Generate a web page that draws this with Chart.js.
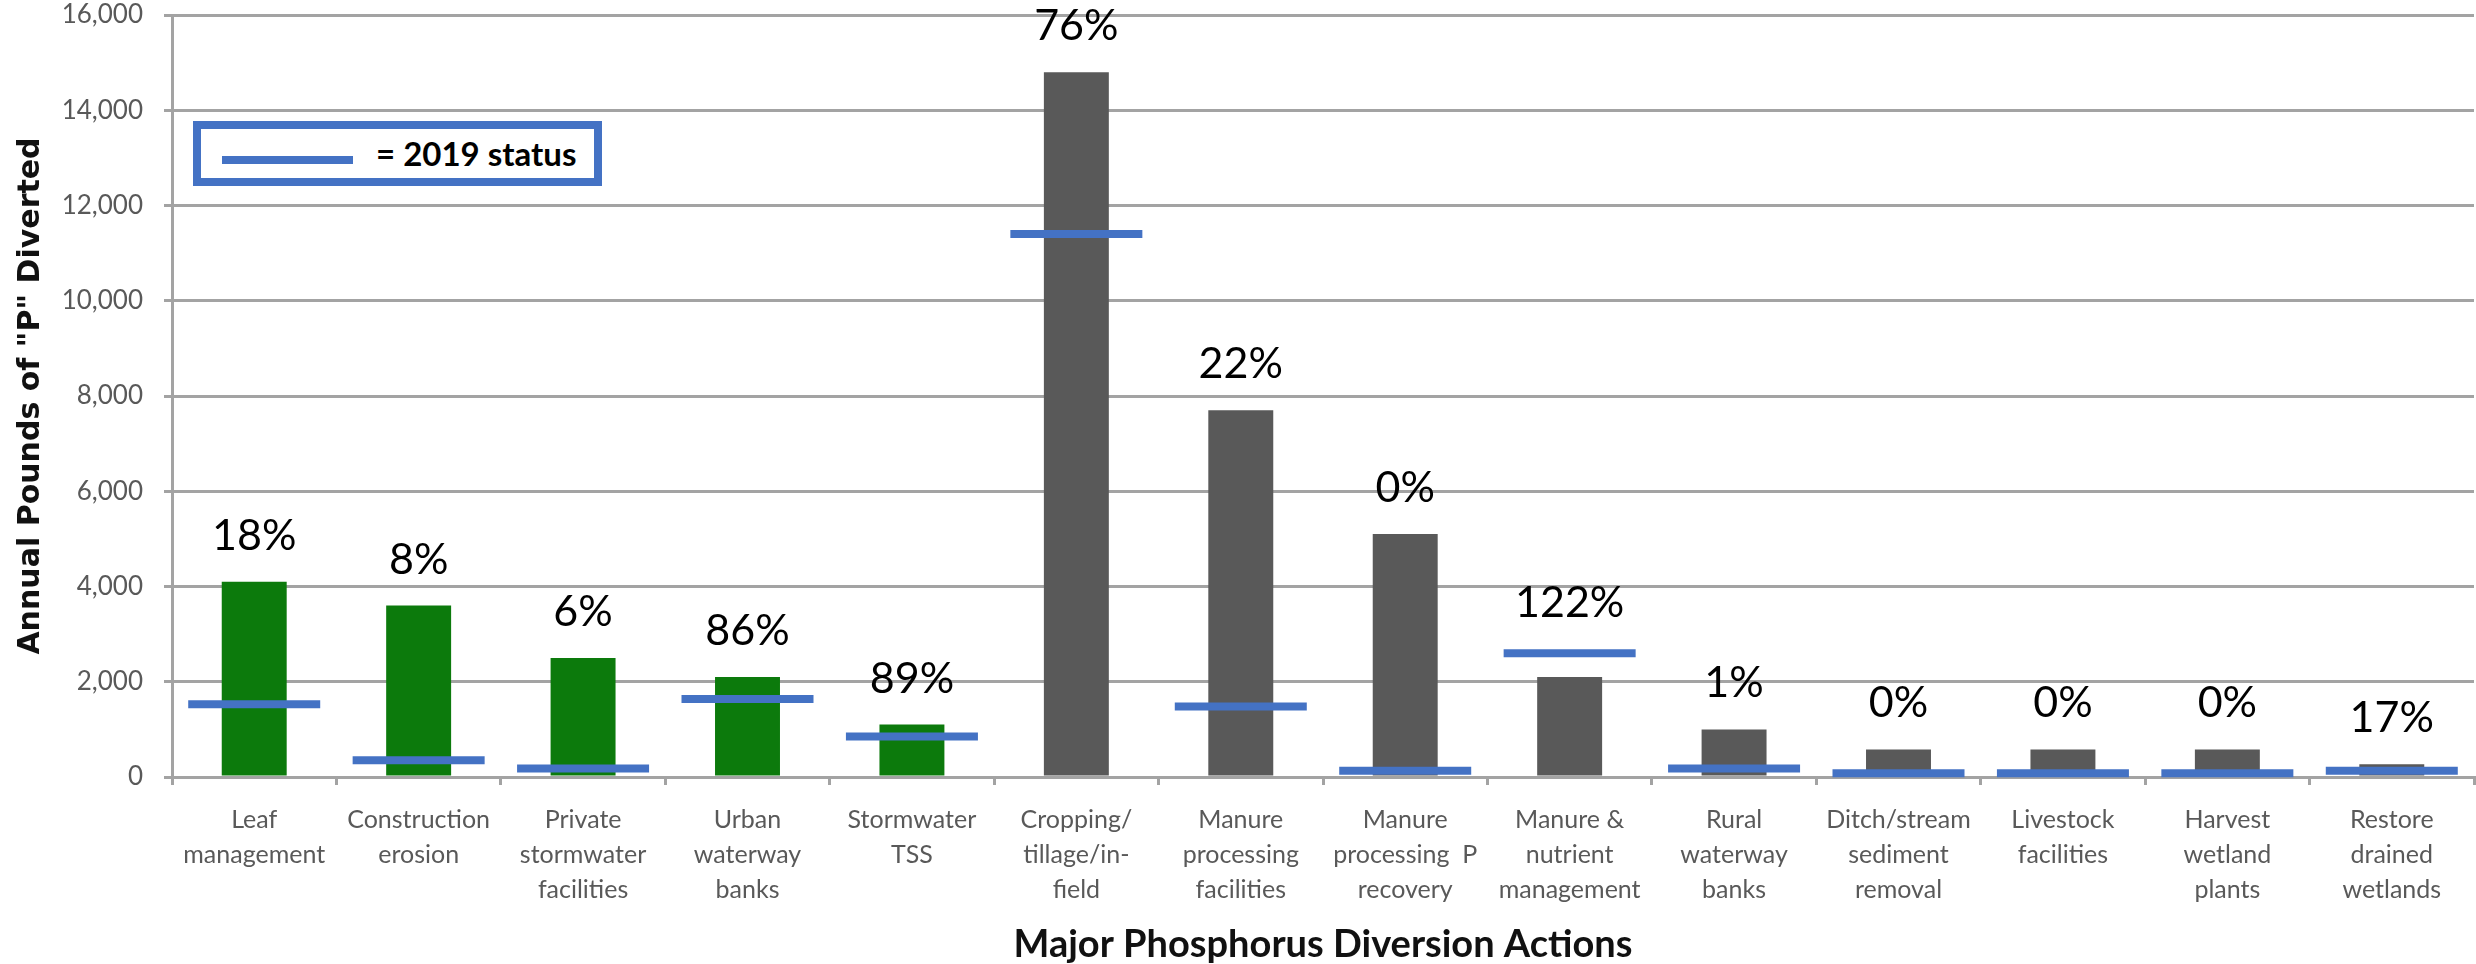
<!DOCTYPE html>
<html>
<head>
<meta charset="utf-8">
<script src="https://cdn.jsdelivr.net/npm/chart.js@4"></script>
<style>
    body { margin: 0; background: #fff; }
    #wrap { position: relative; width: 2476px; height: 964px; }
    #legendBox {
        position: absolute; left: 193px; top: 121px;
        width: 393px; height: 49px;
        border: 8px solid #4472C4; background: #fff;
    }
    #legendBox .swatch {
        position: absolute; left: 21px; top: 27px;
        width: 131px; height: 8px; background: #4472C4;
    }
    #legendBox .label {
        position: absolute; left: 175px; top: 8px;
        font: bold 33px Lato, sans-serif; line-height: 33px; color: #000;
        white-space: nowrap;
    }
</style>
</head>
<body>
<div id="wrap">
    <canvas id="pChart" width="2476" height="964"></canvas>
    <div id="legendBox"><span class="swatch"></span><span class="label">= 2019 status</span></div>
</div>
<script>
// Chart data
const categories = [
    ['Leaf', 'management'],
    ['Construction', 'erosion'],
    ['Private', 'stormwater', 'facilities'],
    ['Urban', 'waterway', 'banks'],
    ['Stormwater', 'TSS'],
    ['Cropping/', 'tillage/in-', 'field'],
    ['Manure', 'processing', 'facilities'],
    ['Manure', 'processing  P', 'recovery'],
    ['Manure &', 'nutrient', 'management'],
    ['Rural', 'waterway', 'banks'],
    ['Ditch/stream', 'sediment', 'removal'],
    ['Livestock', 'facilities'],
    ['Harvest', 'wetland', 'plants'],
    ['Restore', 'drained', 'wetlands']
];
const goalValues = [4100, 3600, 2500, 2100, 1100, 14800, 7700, 5100, 2100, 1000, 580, 580, 580, 270];
const status2019 = [1530, 350, 180, 1640, 850, 11400, 1480, 130, 2600, 180, 80, 80, 80, 130];
const pctLabels = ['18%', '8%', '6%', '86%', '89%', '76%', '22%', '0%', '122%', '1%', '0%', '0%', '0%', '17%'];
const urbanCount = 5; // first five actions are urban (green)
const yTicks = [0, 2000, 4000, 6000, 8000, 10000, 12000, 14000, 16000];

const GREEN = '#0C7A0C';
const GRAY = '#595959';
const BLUE = '#4472C4';
const GRID = '#A3A3A3';

function fmt(v) {
    return String(v).replace(/\B(?=(\d{3})+(?!\d))/g, ',');
}

// percent labels above each bar (or above the status line when it is higher)
const pctLabelPlugin = {
    id: 'pctLabels',
    afterDatasetsDraw: function(chart) {
        const ctx = chart.ctx;
        const meta = chart.getDatasetMeta(0);
        const y = chart.scales.y;
        ctx.save();
        ctx.fillStyle = '#000';
        ctx.font = '43px Lato, sans-serif';
        ctx.textAlign = 'center';
        ctx.textBaseline = 'alphabetic';
        meta.data.forEach(function(bar, i) {
            const lineTop = y.getPixelForValue(status2019[i]) - 4;
            const top = Math.min(bar.y, lineTop);
            ctx.fillText(pctLabels[i], bar.x, top - 32);
        });
        ctx.restore();
    }
};

const ctx = document.getElementById('pChart').getContext('2d');
new Chart(ctx, {
    type: 'bar',
    data: {
        labels: categories,
        datasets: [{
            type: 'bar',
            label: 'Goal',
            data: goalValues,
            backgroundColor: goalValues.map(function(v, i) { return i < urbanCount ? GREEN : GRAY; }),
            barPercentage: 0.395,
            categoryPercentage: 1.0,
            grouped: false,
            order: 1
        }, {
            type: 'line',
            label: '2019 status',
            data: status2019,
            showLine: false,
            pointStyle: 'line',
            pointRadius: 66,
            pointHoverRadius: 66,
            pointBorderWidth: 8,
            pointHoverBorderWidth: 8,
            pointBorderColor: BLUE,
            pointBackgroundColor: BLUE,
            clip: false,
            order: 0
        }]
    },
    options: {
        responsive: false,
        devicePixelRatio: 1,
        animation: false,
        events: [],
        layout: {
            autoPadding: false,
            padding: { left: 0, right: 2, top: 15, bottom: 0 }
        },
        scales: {
            x: {
                offset: true,
                grid: {
                    display: true,
                    offset: true,
                    drawOnChartArea: false,
                    drawTicks: true,
                    tickLength: 8,
                    color: GRID,
                    lineWidth: 3
                },
                border: { display: true, color: GRID, width: 3 },
                ticks: {
                    autoSkip: false,
                    maxRotation: 0,
                    padding: 17,
                    color: GRAY,
                    font: { family: 'Lato', size: 25, lineHeight: 1.4 }
                },
                title: {
                    display: true,
                    text: 'Major Phosphorus Diversion Actions',
                    color: '#111',
                    padding: { top: 0, bottom: 0 },
                    font: { family: 'Lato', size: 38, weight: 'bold', lineHeight: 1.0 }
                },
                afterFit: function(scale) {
                    scale.height = 187;
                    scale.paddingLeft = 0;
                    scale.paddingRight = 0;
                }
            },
            y: {
                min: 0,
                max: 16000,
                afterBuildTicks: function(scale) {
                    scale.ticks = yTicks.map(function(v) { return { value: v }; });
                },
                grid: {
                    color: GRID,
                    lineWidth: 3,
                    drawTicks: true,
                    tickLength: 8
                },
                border: { display: true, color: GRID, width: 3 },
                ticks: {
                    padding: 21,
                    color: GRAY,
                    font: { family: 'Lato', size: 26 },
                    callback: function(value) { return fmt(value); }
                },
                title: {
                    display: true,
                    text: 'Annual Pounds of "P" Diverted',
                    color: '#111',
                    padding: { top: 13, bottom: 0 },
                    font: { family: 'DejaVu Sans', size: 30, weight: 'bold' }
                },
                afterFit: function(scale) {
                    scale.width = 172;
                    scale.paddingTop = 0;
                    scale.paddingBottom = 0;
                }
            }
        },
        plugins: {
            legend: { display: false },
            tooltip: { enabled: false }
        }
    },
    plugins: [pctLabelPlugin]
});
</script>
</body>
</html>
